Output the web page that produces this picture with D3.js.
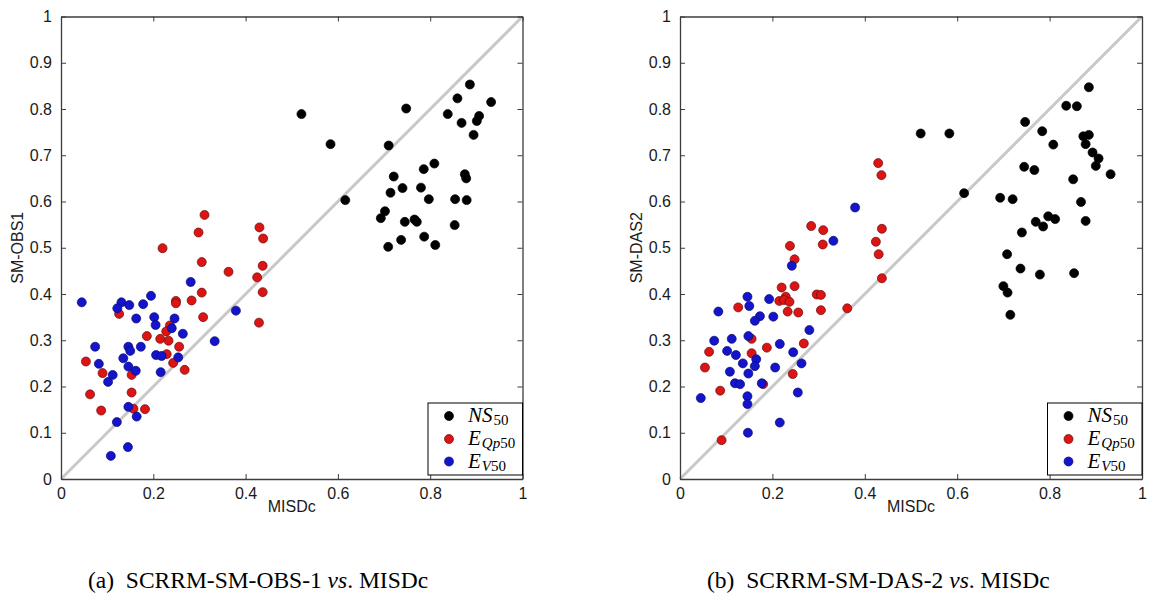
<!DOCTYPE html>
<html>
<head>
<meta charset="utf-8">
<script src="https://cdn.jsdelivr.net/npm/d3@7"></script>
<style>
  html, body { margin: 0; padding: 0; background: #fff; }
  svg { display: block; }
</style>
</head>
<body>
<svg id="fig" width="1150" height="604"></svg>
<script>
// Axis ticks shared by both panels
const xTicks = [0, 0.2, 0.4, 0.6, 0.8, 1];
const xTickLabels = ["0", "0.2", "0.4", "0.6", "0.8", "1"];
const yTicks = [0, 0.1, 0.2, 0.3, 0.4, 0.5, 0.6, 0.7, 0.8, 0.9, 1];
const yTickLabels = ["0", "0.1", "0.2", "0.3", "0.4", "0.5", "0.6", "0.7", "0.8", "0.9", "1"];
const xLabel = "MISDc";

// Panel (a): SCRRM-SM-OBS-1 vs MISDc, [MISDc, SM-OBS1]
const obs1NS = [[0.521,0.789],[0.584,0.724],[0.748,0.801],[0.710,0.721],[0.616,0.603],[0.886,0.853],[0.859,0.823],[0.838,0.789],[0.932,0.815],[0.868,0.770],[0.906,0.785],[0.901,0.774],[0.894,0.744],[0.809,0.682],[0.786,0.670],[0.721,0.654],[0.875,0.659],[0.878,0.650],[0.740,0.629],[0.780,0.630],[0.714,0.619],[0.797,0.605],[0.854,0.605],[0.879,0.603],[0.702,0.579],[0.693,0.564],[0.745,0.556],[0.766,0.561],[0.771,0.556],[0.853,0.549],[0.737,0.517],[0.787,0.524],[0.709,0.502],[0.811,0.506]];
const obs1EQp = [[0.220,0.499],[0.298,0.533],[0.311,0.571],[0.430,0.544],[0.438,0.520],[0.305,0.469],[0.363,0.448],[0.437,0.461],[0.425,0.436],[0.437,0.404],[0.429,0.338],[0.305,0.403],[0.283,0.386],[0.249,0.385],[0.249,0.380],[0.308,0.350],[0.126,0.357],[0.186,0.309],[0.236,0.332],[0.228,0.319],[0.215,0.303],[0.233,0.299],[0.256,0.286],[0.229,0.270],[0.243,0.251],[0.268,0.236],[0.054,0.254],[0.090,0.229],[0.063,0.183],[0.087,0.148],[0.153,0.225],[0.153,0.187],[0.157,0.152],[0.182,0.151]];
const obs1EV = [[0.045,0.382],[0.281,0.426],[0.379,0.364],[0.333,0.298],[0.195,0.396],[0.131,0.382],[0.148,0.376],[0.122,0.369],[0.178,0.378],[0.163,0.347],[0.202,0.350],[0.205,0.333],[0.246,0.347],[0.240,0.326],[0.264,0.314],[0.074,0.286],[0.146,0.286],[0.150,0.277],[0.173,0.286],[0.135,0.261],[0.206,0.268],[0.218,0.266],[0.254,0.263],[0.082,0.249],[0.146,0.243],[0.162,0.234],[0.216,0.231],[0.112,0.225],[0.102,0.210],[0.146,0.156],[0.164,0.135],[0.121,0.123],[0.145,0.069],[0.108,0.050]];

// Panel (b): SCRRM-SM-DAS-2 vs MISDc, [MISDc, SM-DAS2]
const das2NS = [[0.521,0.747],[0.583,0.747],[0.615,0.618],[0.885,0.847],[0.836,0.807],[0.859,0.806],[0.747,0.772],[0.784,0.752],[0.808,0.723],[0.873,0.741],[0.885,0.744],[0.878,0.724],[0.893,0.706],[0.906,0.693],[0.900,0.677],[0.932,0.659],[0.745,0.675],[0.767,0.668],[0.851,0.648],[0.693,0.608],[0.720,0.605],[0.868,0.599],[0.797,0.568],[0.812,0.562],[0.770,0.556],[0.786,0.546],[0.878,0.558],[0.740,0.533],[0.708,0.486],[0.737,0.455],[0.779,0.442],[0.853,0.445],[0.700,0.417],[0.709,0.403],[0.715,0.355]];
const das2EQp = [[0.429,0.683],[0.436,0.657],[0.284,0.547],[0.310,0.538],[0.437,0.541],[0.424,0.513],[0.238,0.504],[0.309,0.507],[0.430,0.486],[0.248,0.475],[0.437,0.434],[0.220,0.414],[0.248,0.417],[0.229,0.394],[0.215,0.385],[0.225,0.387],[0.237,0.383],[0.296,0.399],[0.305,0.398],[0.305,0.365],[0.233,0.362],[0.256,0.360],[0.362,0.369],[0.126,0.371],[0.155,0.303],[0.155,0.272],[0.188,0.284],[0.268,0.293],[0.063,0.275],[0.054,0.241],[0.087,0.191],[0.180,0.205],[0.244,0.227],[0.090,0.084]];
const das2EV = [[0.379,0.587],[0.332,0.515],[0.242,0.461],[0.146,0.394],[0.150,0.374],[0.193,0.389],[0.083,0.362],[0.173,0.352],[0.162,0.342],[0.202,0.351],[0.280,0.322],[0.074,0.299],[0.112,0.303],[0.148,0.309],[0.216,0.292],[0.245,0.274],[0.102,0.277],[0.121,0.268],[0.165,0.259],[0.162,0.244],[0.136,0.250],[0.206,0.241],[0.263,0.250],[0.108,0.232],[0.148,0.228],[0.119,0.207],[0.130,0.205],[0.177,0.207],[0.045,0.175],[0.146,0.179],[0.146,0.162],[0.255,0.187],[0.216,0.122],[0.147,0.100]];

// Legend entries: main symbol and subscript pieces (italic flag per piece)
const legendEntries = [
  { main: "NS", sub: [["50", false]] },
  { main: "E",  sub: [["Qp", true], ["50", false]] },
  { main: "E",  sub: [["V", true], ["50", false]] }
];
const seriesFill = ["#000000", "#dc1414", "#1414cc"];
const seriesStroke = ["#000000", "#6a0a0a", "#0a0a70"];

const panels = [
  { left: 61,  right: 522.5, yLabel: "SM-OBS1", tag: "(a)", name: "SCRRM-SM-OBS-1", series: [obs1NS, obs1EQp, obs1EV], capX: 88 },
  { left: 680, right: 1142,  yLabel: "SM-DAS2", tag: "(b)", name: "SCRRM-SM-DAS-2", series: [das2NS, das2EQp, das2EV], capX: 707 }
];
const plotTop = 16.5, plotBottom = 479;
const tickLen = 5;
const frameColor = "#3c3c3c";
const axisFont = "'Liberation Sans', Arial, sans-serif";
const serifFont = "'Liberation Serif', 'Times New Roman', serif";

const svg = d3.select("#fig");
svg.append("rect").attr("width", 1150).attr("height", 604).attr("fill", "#fff");

panels.forEach(p => {
  const x = d3.scaleLinear().domain([0, 1]).range([p.left, p.right]);
  const y = d3.scaleLinear().domain([0, 1]).range([plotBottom, plotTop]);
  const g = svg.append("g");

  // 1:1 reference line
  g.append("line")
    .attr("x1", x(0)).attr("y1", y(0)).attr("x2", x(1)).attr("y2", y(1))
    .attr("stroke", "#c8c8c8").attr("stroke-width", 3);

  // scatter series
  p.series.forEach((pts, i) => {
    g.append("g").selectAll("circle").data(pts).join("circle")
      .attr("cx", d => x(d[0])).attr("cy", d => y(d[1])).attr("r", 4.5)
      .attr("fill", seriesFill[i]).attr("stroke", seriesStroke[i]).attr("stroke-width", 0.7);
  });

  // box axes with inward ticks
  const bottomAxis = d3.axisBottom(x).tickValues(xTicks).tickSizeInner(-tickLen).tickSizeOuter(0).tickPadding(tickLen + 4)
    .tickFormat((d, i) => xTickLabels[i]);
  const leftAxis = d3.axisLeft(y).tickValues(yTicks).tickSizeInner(-tickLen).tickSizeOuter(0).tickPadding(tickLen + 4)
    .tickFormat((d, i) => yTickLabels[i]);
  const topAxis = d3.axisTop(x).tickValues(xTicks).tickSizeInner(-tickLen).tickSizeOuter(0).tickFormat("");
  const rightAxis = d3.axisRight(y).tickValues(yTicks).tickSizeInner(-tickLen).tickSizeOuter(0).tickFormat("");

  const styleAxis = sel => {
    sel.select(".domain").attr("stroke", frameColor).attr("stroke-width", 1.3);
    sel.selectAll(".tick line").attr("stroke", frameColor).attr("stroke-width", 1);
    sel.selectAll(".tick text").attr("fill", "#1a1a1a").style("font-family", axisFont).style("font-size", "16px");
  };
  g.append("g").attr("transform", `translate(0,${plotBottom})`).call(bottomAxis).call(styleAxis);
  g.append("g").attr("transform", `translate(${p.left},0)`).call(leftAxis).call(styleAxis);
  g.append("g").attr("transform", `translate(0,${plotTop})`).call(topAxis).call(styleAxis);
  g.append("g").attr("transform", `translate(${p.right},0)`).call(rightAxis).call(styleAxis);

  // axis titles
  g.append("text").attr("x", (p.left + p.right) / 2).attr("y", 512)
    .attr("text-anchor", "middle").attr("fill", "#1a1a1a")
    .style("font-family", axisFont).style("font-size", "16px").text(xLabel);
  g.append("text").attr("transform", `translate(${p.left - 38},${(plotTop + plotBottom) / 2}) rotate(-90)`)
    .attr("text-anchor", "middle").attr("fill", "#1a1a1a")
    .style("font-family", axisFont).style("font-size", "16px").text(p.yLabel);

  // legend
  const lg = g.append("g");
  const lx0 = p.right - 94.5, ly0 = 403, ly1 = 475;
  lg.append("rect").attr("x", lx0).attr("y", ly0).attr("width", p.right - lx0).attr("height", ly1 - ly0)
    .attr("fill", "#fff").attr("stroke", "#000").attr("stroke-width", 1);
  const rowY = [416, 439, 461.5];
  legendEntries.forEach((e, i) => {
    lg.append("circle").attr("cx", lx0 + 21).attr("cy", rowY[i]).attr("r", 4.5)
      .attr("fill", seriesFill[i]).attr("stroke", seriesStroke[i]).attr("stroke-width", 0.7);
    const t = lg.append("text").attr("x", lx0 + 40).attr("y", rowY[i] + 6)
      .attr("fill", "#000").style("font-family", serifFont);
    t.append("tspan").style("font-style", "italic").style("font-size", "21px").text(e.main);
    e.sub.forEach((s, k) => {
      const ts = t.append("tspan").style("font-size", "15px").style("font-style", s[1] ? "italic" : "normal").text(s[0]);
      if (k === 0) ts.attr("dy", 3).attr("dx", 1);
    });
  });

  // sub-figure caption
  const cap = svg.append("text").attr("x", p.capX).attr("y", 588).attr("fill", "#000")
    .style("font-family", serifFont).style("font-size", "23.5px")
    .style("white-space", "pre");
  cap.append("tspan").text(p.tag + "  " + p.name + " ");
  cap.append("tspan").style("font-style", "italic").text("vs");
  cap.append("tspan").text(". " + xLabel);
});
</script>
</body>
</html>
